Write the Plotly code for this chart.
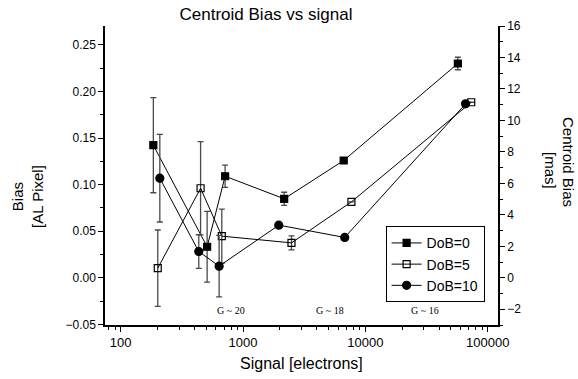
import math
import plotly.graph_objects as go

# ---- data ----
x_dob0 = [185, 509, 714, 2170, 6650, 57000]
y_dob0 = [0.1423, 0.0333, 0.109, 0.0848, 0.1259, 0.230]
e_dob0 = [0.051, 0.038, 0.012, 0.007, 0.0, 0.0067]

x_dob5 = [201, 450, 671, 2490, 7690, 73300]
y_dob5 = [0.0103, 0.0961, 0.0447, 0.0375, 0.0815, 0.1884]
e_dob5 = [0.041, 0.050, 0.029, 0.0075, 0.0, 0.0]

x_dob10 = [209, 435, 638, 1960, 6780, 65900]
y_dob10 = [0.1069, 0.0282, 0.0125, 0.0565, 0.0433, 0.1867]
e_dob10 = [0.047, 0.018, 0.033, 0.0, 0.0, 0.0]

g_pos = [805, 5150, 30700]
g_labels = ["G ~ 20", "G ~ 18", "G ~ 16"]

series = [
    ("DoB=0", x_dob0, y_dob0, e_dob0, "square", "black"),
    ("DoB=5", x_dob5, y_dob5, e_dob5, "square-open", "black"),
    ("DoB=10", x_dob10, y_dob10, e_dob10, "circle", "black"),
]

MAS_PER_PIX = 59.2
right_range = [-3.0, 16.0]
left_range = [right_range[0] / MAS_PER_PIX, right_range[1] / MAS_PER_PIX]

fig = go.Figure()
for name, xs, ys, es, sym, col in series:
    fig.add_trace(go.Scatter(
        x=xs, y=ys, name=name, mode="lines+markers",
        line=dict(color="black", width=1),
        marker=dict(symbol=sym, size=8 if "circle" in sym else 7, color=col,
                    line=dict(color="black", width=1.2)),
        error_y=dict(type="data", array=es, visible=True, color="#4a4a4a",
                     thickness=1.3, width=3),
    ))

font = "Liberation Sans, Arial, sans-serif"

fig.update_layout(
    width=578, height=379,
    margin=dict(l=105, r=80, t=26, b=54),
    plot_bgcolor="white", paper_bgcolor="white",
    font=dict(family=font, size=12, color="black"),
    title=dict(text="Centroid Bias vs signal", x=266/578, xanchor="center",
               y=1-14/379, yanchor="middle", font=dict(size=17, family=font)),
    showlegend=True,
    legend=dict(x=0.714, y=0.33, xanchor="left", yanchor="top",
                bordercolor="black", borderwidth=1, bgcolor="white",
                font=dict(size=14, family=font), tracegroupgap=0,
                itemwidth=30),
    xaxis=dict(type="log", range=[1.872, 5.084], showgrid=False, zeroline=False,
               showline=True, linecolor="black", linewidth=1.5,
               ticks="outside", ticklen=5, tickwidth=1, tickcolor="black",
               dtick=1, tickformat="d",
               tickfont=dict(size=13),
               minor=dict(ticks="outside", ticklen=3, tickcolor="black", dtick="D1")),
    yaxis=dict(range=left_range, showgrid=False, zeroline=False,
               showline=True, linecolor="black", linewidth=1.5,
               ticks="outside", ticklen=5, tickcolor="black",
               dtick=0.05, tick0=0, tickformat=".2f", tickfont=dict(size=12),
               minor=dict(ticks="outside", ticklen=3, tickcolor="black", dtick=0.025)),
    yaxis2=dict(overlaying="y", side="right", range=right_range,
                showgrid=False, zeroline=False,
                showline=True, linecolor="black", linewidth=1.5,
                ticks="outside", ticklen=5, tickcolor="black",
                dtick=2, tick0=0, tickfont=dict(size=12),
                minor=dict(ticks="outside", ticklen=3, tickcolor="black", dtick=1)),
)

# dummy trace to show second axis
fig.add_trace(go.Scatter(x=[None], y=[None], yaxis="y2", showlegend=False))

# G magnitude markers (log axis -> positions in log10 units)
for gx, gl in zip(g_pos, g_labels):
    lx = math.log10(gx)
    fig.add_shape(type="line", xref="x", yref="paper", x0=lx, x1=lx, y0=0, y1=0.017,
                  line=dict(color="black", width=1))
    fig.add_annotation(x=lx, xref="x", y=0.022, yref="paper", text=gl, showarrow=False,
                       xanchor="center", yanchor="bottom",
                       font=dict(family="Liberation Serif, Times New Roman, serif", size=10))

# axis titles
fig.add_annotation(text="Signal [electrons]", xref="paper", yref="paper",
                   x=(301.5-105)/393, y=(325-363)/299, showarrow=False,
                   xanchor="center", yanchor="middle", font=dict(size=16))
fig.add_annotation(text="Bias<br>[AL Pixel]", xref="paper", yref="paper",
                   x=(27-105)/393, y=(325-197)/299, showarrow=False, textangle=-90,
                   xanchor="center", yanchor="middle", font=dict(size=15))
fig.add_annotation(text="Centroid Bias", xref="paper", yref="paper",
                   x=(569-105)/393, y=(325-162)/299, showarrow=False, textangle=90,
                   xanchor="center", yanchor="middle", font=dict(size=15))
fig.add_annotation(text="[mas]", xref="paper", yref="paper",
                   x=(551-105)/393, y=(325-170)/299, showarrow=False, textangle=90,
                   xanchor="center", yanchor="middle", font=dict(size=15))

fig.write_html("out.html")
